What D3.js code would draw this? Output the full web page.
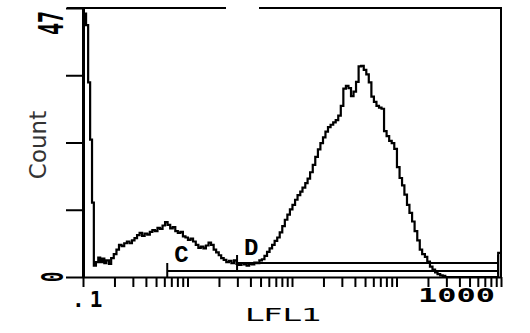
<!DOCTYPE html>
<html>
<head>
<meta charset="utf-8">
<script src="https://cdn.jsdelivr.net/npm/d3@7"></script>
<style>
  body { margin: 0; background: #fff; }
  svg { display: block; }
</style>
</head>
<body>
<div id="chart"></div>
<script>
// LFL1 histogram (flow cytometry)

const fl1 = [
  0.100, 0.107, 0.112, 0.117, 0.122, 0.127, 0.133, 0.140, 0.146, 0.153,
  0.160, 0.167, 0.177, 0.186, 0.197, 0.209, 0.221, 0.234, 0.248, 0.263,
  0.278, 0.294, 0.311, 0.329, 0.348, 0.368, 0.389, 0.412, 0.436, 0.461,
  0.488, 0.516, 0.545, 0.577, 0.610, 0.645, 0.683, 0.722, 0.764, 0.808,
  0.855, 0.904, 0.956, 1.01, 1.07, 1.13, 1.20, 1.27, 1.34, 1.42,
  1.50, 1.59, 1.68, 1.78, 1.88, 1.99, 2.10, 2.22, 2.35, 2.49,
  2.63, 2.78, 2.94, 3.11, 3.29, 3.48, 3.68, 3.89, 4.12, 4.36,
  4.61, 4.87, 5.15, 5.45, 5.77, 6.10, 6.45, 6.82, 7.22, 7.63,
  8.07, 8.54, 9.03, 9.55, 10.1, 10.7, 11.3, 12.0, 12.6, 13.4,
  14.1, 14.9, 15.8, 16.7, 17.7, 18.7, 19.8, 20.9, 22.1, 23.4,
  24.8, 26.2, 27.7, 29.3, 31.0, 32.8, 34.7, 36.7, 38.8, 41.0,
  43.4, 45.9, 48.6, 51.4, 54.3, 57.5, 60.8, 64.3, 68.0, 71.9,
  76.0, 80.4, 85.1, 90.0, 95.2, 101, 107, 113, 119, 126,
  133, 141, 149, 158, 167, 176, 187, 197, 209, 221,
  234, 247, 262, 277, 293, 940, 1000
];
const counts = [
  46, 44, 34, 24, 13, 2.0, 2.6, 3.4, 2.6, 3.2,
  2.4, 2.9, 2.3, 3.3, 4.0, 4.8, 5.6, 5.4, 5.9, 6.2,
  5.9, 6.4, 6.8, 7.3, 7.7, 7.2, 7.6, 7.4, 7.9, 8.2,
  8.0, 8.6, 8.4, 9.0, 9.6, 9.1, 8.5, 8.7, 8.0, 7.7,
  7.9, 7.1, 6.9, 6.5, 6.7, 6.2, 5.6, 5.1, 5.3, 5.0,
  5.5, 6.0, 5.6, 4.8, 4.3, 3.8, 3.3, 3.0, 2.6, 2.8,
  2.4, 2.9, 2.3, 2.1, 2.4, 2.2, 2.0, 2.3, 2.2, 2.5,
  2.4, 2.9, 3.1, 3.7, 4.4, 5.0, 5.6, 6.3, 6.9, 7.8,
  8.9, 10.0, 10.9, 11.8, 12.6, 13.5, 14.3, 14.9, 15.6, 16.4,
  17.2, 18.3, 19.6, 21.0, 22.3, 23.4, 24.4, 25.4, 26.2, 26.6,
  27.0, 27.4, 28.2, 29.9, 32.9, 33.4, 33.0, 31.6, 32.4, 34.1,
  36.8, 36.9, 36.2, 35.4, 34.0, 31.5, 30.6, 29.9, 29.6, 29.4,
  25.5, 24.6, 23.8, 23.4, 22.4, 19.2, 17.3, 16.0, 14.4, 12.6,
  11.2, 9.7, 8.0, 6.4, 4.8, 4.0, 3.5, 2.7, 1.8, 1.3,
  0.8, 0.5, 0.3, 0.2, 0, 4.2, 4.2
];

const yTicks = [0, 11.75, 23.5, 35.25, 47];
const xDecades = [0.1, 1, 10, 100];
const gateNames = ["C", "D"];
const gateFrom = [0.64, 2.98];
const gateTo = [1000, 1000];

const width = 530, height = 333;
const svg = d3.select("#chart").append("svg")
  .attr("width", width)
  .attr("height", height)
  .style("background", "#fff");

const x = d3.scaleLog().domain([0.1, 1000]).range([83, 501]);
const y = d3.scaleLinear().domain([0, 47]).range([277, 8]);

const xTickVals = [];
xDecades.forEach(d => { for (let k = 1; k <= 9; k++) xTickVals.push(d * k); });
xTickVals.push(1000);

// x axis
const gx = svg.append("g")
  .attr("transform", `translate(0,${y(0)})`)
  .call(d3.axisBottom(x).tickValues(xTickVals).tickSize(10).tickSizeOuter(0).tickFormat(""));
gx.select(".domain").attr("stroke", "#000").attr("stroke-width", 2);
gx.selectAll(".tick line").attr("stroke", "#000").attr("stroke-width", 2);

// y axis
const gy = svg.append("g")
  .attr("transform", `translate(${x(0.1)},0)`)
  .call(d3.axisLeft(y).tickValues(yTicks).tickSize(17).tickSizeOuter(0).tickFormat(""));
gy.select(".domain").attr("stroke", "#000").attr("stroke-width", 3);
gy.selectAll(".tick line").attr("stroke", "#000").attr("stroke-width", 2);

// frame: top line (broken) and right side
const frame = svg.append("g").attr("stroke", "#000").attr("fill", "none");
frame.append("line").attr("x1", 67).attr("x2", 226).attr("y1", y(47)).attr("y2", y(47)).attr("stroke-width", 2);
frame.append("line").attr("x1", 259).attr("x2", x(1000) + 1).attr("y1", y(47)).attr("y2", y(47)).attr("stroke-width", 2);
frame.append("line").attr("x1", x(1000)).attr("x2", x(1000)).attr("y1", y(47)).attr("y2", y(0)).attr("stroke-width", 2);

// histogram
const hist = fl1.map((v, i) => [v, counts[i]]);
const line = d3.line()
  .x(d => x(d[0]))
  .y(d => y(d[1]))
  .curve(d3.curveStepAfter);
svg.append("path")
  .datum(hist)
  .attr("fill", "none")
  .attr("stroke", "#000")
  .attr("stroke-width", 2.2)
  .attr("d", line);

// gates
const gateLift = [6, 14];
const gates = svg.append("g").attr("stroke", "#000").attr("stroke-width", 2);
gateNames.forEach((name, i) => {
  const ly = y(0) - gateLift[i];
  const x0 = x(gateFrom[i]), x1 = x(gateTo[i]) - 3;
  gates.append("line").attr("x1", x0).attr("x2", x1).attr("y1", ly).attr("y2", ly);
  gates.append("line").attr("x1", x0).attr("x2", x0).attr("y1", ly - 8).attr("y2", i === 0 ? y(0) + 1 : ly + 9);
  gates.append("line").attr("x1", x1).attr("x2", x1).attr("y1", ly - 8).attr("y2", ly + 3);
  svg.append("text")
    .attr("x", x0 + 7)
    .attr("y", ly - (i === 0 ? 9 : 8))
    .attr("font-family", "Liberation Mono, DejaVu Sans Mono, monospace")
    .attr("font-weight", "bold")
    .attr("font-size", 24)
    .text(name);
});

// axis labels
const mono = "DejaVu Sans Mono, Liberation Mono, monospace";
svg.append("text")
  .attr("x", 72).attr("y", 307)
  .attr("font-family", mono).attr("font-weight", "bold").attr("font-size", 21)
  .attr("letter-spacing", 5)
  .text(".1");
svg.append("text")
  .attr("x", 418).attr("y", 302)
  .attr("font-family", mono).attr("font-weight", "bold").attr("font-size", 19)
  .attr("textLength", 77).attr("lengthAdjust", "spacingAndGlyphs")
  .text("1000");
svg.append("text")
  .attr("x", 245).attr("y", 321)
  .attr("font-family", "DejaVu Sans, sans-serif").attr("font-size", 18)
  .attr("textLength", 77).attr("lengthAdjust", "spacingAndGlyphs")
  .text("LFL1");

svg.append("text")
  .attr("transform", "translate(63,23) rotate(-90) scale(1,1.7)")
  .attr("text-anchor", "middle")
  .attr("font-family", mono).attr("font-weight", "bold").attr("font-size", 20)
  .text("47");
svg.append("text")
  .attr("transform", "translate(63,277) rotate(-90) scale(1,1.8)")
  .attr("text-anchor", "middle")
  .attr("font-family", mono).attr("font-weight", "bold").attr("font-size", 17)
  .text("0");
svg.append("text")
  .attr("transform", "translate(46,145) rotate(-90)")
  .attr("text-anchor", "middle")
  .attr("font-family", "DejaVu Sans, sans-serif").attr("font-size", 23)
  .attr("fill", "#333")
  .text("Count");
</script>
</body>
</html>
